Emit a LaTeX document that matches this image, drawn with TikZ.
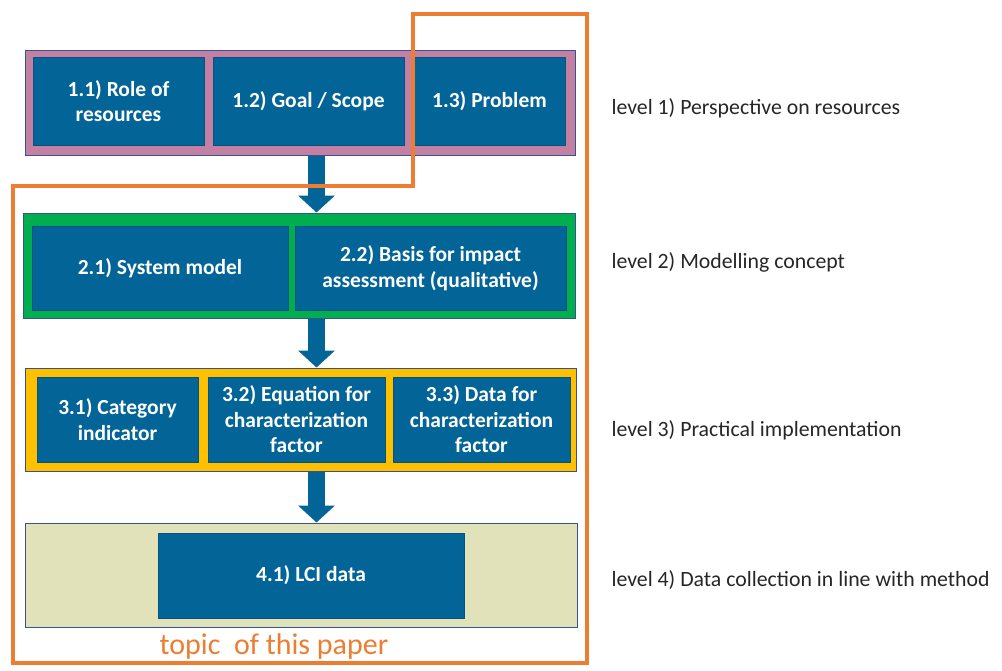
\documentclass[tikz,border=0pt]{standalone}
\usepackage{fontspec}
\setmainfont{Carlito}
\usetikzlibrary{arrows.meta}
\definecolor{boxblue}{RGB}{3,100,152}
\definecolor{frameblue}{RGB}{52,84,150}
\definecolor{lvlpink}{RGB}{196,128,162}
\definecolor{lvlgreen}{RGB}{0,174,80}
\definecolor{lvlyellow}{RGB}{255,192,0}
\definecolor{lvlkhaki}{RGB}{226,226,186}
\definecolor{topicorange}{RGB}{237,125,49}

\begin{document}
\begin{tikzpicture}[x=1pt,y=-1pt,
    box/.style={fill=boxblue,draw=boxblue!85!black,text=white,align=center,inner sep=0pt,
      font=\bfseries\fontsize{21.5}{25.5}\selectfont},
    level/.style={draw=frameblue,line width=1pt,inner sep=0pt},
    lbl/.style={anchor=west,text=black!85,font=\fontsize{21.8}{24}\selectfont},
    bigarrow/.style={draw=boxblue,line width=17pt,-{Triangle[width=36pt,length=17pt]}}]
    \useasboundingbox (0,0) rectangle (1002,670);
    % the four levels
    \node[level,fill=lvlpink,minimum width=550pt,minimum height=105pt] (l1) at (300,102.5) {};
    \node[level,fill=lvlgreen,minimum width=552pt,minimum height=105pt] (l2) at (299,265.5) {};
    \node[level,fill=lvlyellow,minimum width=551pt,minimum height=103pt] (l3) at (300.5,419.5) {};
    \node[level,fill=lvlkhaki,minimum width=552pt,minimum height=104pt] (l4) at (301,575) {};
    % level 1
    \node[box,minimum width=171pt,minimum height=88pt] (role) at (118.5,101) {1.1) Role of\\resources};
    \node[box,minimum width=191pt,minimum height=88pt] (goal) at (308.5,101) {1.2) Goal / Scope};
    \node[box,minimum width=151pt,minimum height=88pt] (problem) at (489.5,101) {1.3) Problem};
    % level 2
    \node[box,minimum width=256pt,minimum height=84pt] (sysmodel) at (160,268) {2.1) System model};
    \node[box,minimum width=271pt,minimum height=84pt] (basis) at (430.5,268) {2.2) Basis for impact\\assessment (qualitative)};
    % level 3
    \node[box,minimum width=161pt,minimum height=85pt] (catind) at (117.5,419.5) {3.1) Category\\indicator};
    \node[box,minimum width=177pt,minimum height=85pt] (equation) at (296.5,419.5) {3.2) Equation for\\characterization\\factor};
    \node[box,minimum width=177pt,minimum height=85pt] (cfdata) at (481.5,419.5) {3.3) Data for\\characterization\\factor};
    % level 4
    \node[box,minimum width=306pt,minimum height=85pt] (lci) at (311,575.5) {4.1) LCI data};
    % arrows between levels
    \coordinate (ax) at (316.5,0);
    \draw[bigarrow] (l1.south -| ax) -- (l2.north -| ax);
    \draw[bigarrow] (l2.south -| ax) -- (l3.north -| ax);
    \draw[bigarrow] (l3.south -| ax) -- (l4.north -| ax);
    % labels on the right
    \node[lbl] (lab1) at (608,108) {level 1) Perspective on resources};
    \node[lbl] (lab2) at (608,262) {level 2) Modelling concept};
    \node[lbl] (lab3) at (608,430) {level 3) Practical implementation};
    \node[lbl] (lab4) at (608,580) {level 4) Data collection in line with method};
    % scope of the paper
    \draw[topicorange,line width=4pt] (413,14) -- (587,14) -- (587,663) -- (13,663) -- (13,186) -- (413,186) -- cycle;
    \node[text=topicorange,font=\fontsize{30}{34}\selectfont] (topic) at (274,646) {topic\ \ of this paper};
\end{tikzpicture}
\end{document}
